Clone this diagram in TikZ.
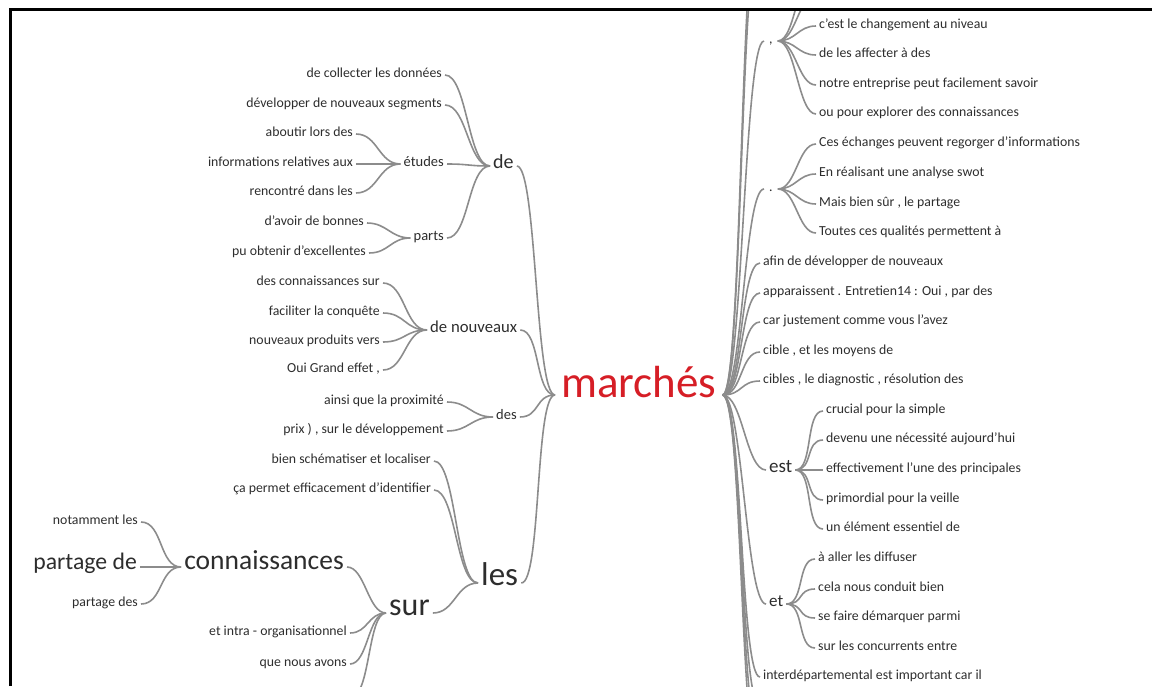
\documentclass[tikz,border=0pt]{standalone}
\usepackage{fontspec}
\setmainfont{Carlito}
\definecolor{twiggray}{RGB}{140,140,140}
\definecolor{inkgray}{RGB}{45,45,45}
\definecolor{rootred}{RGB}{214,30,38}
\tikzset{
  word/.style={inner sep=3pt, text=inkgray, font=\fontsize{13.8}{16}\selectfont},
  lword/.style={word, anchor=mid east},
  rword/.style={word, anchor=mid west},
  twig/.style={draw=twiggray, line width=1.6pt},
}
\begin{document}
\begin{tikzpicture}[x=1pt, y=-1pt]
  \useasboundingbox (0,0) rectangle (1152,686);
  \begin{scope}
  \clip (11,10) rectangle (1152,686);

  % la racine
  \node[rword, inner xsep=6pt, text=rootred, font=\fontsize{45}{50}\selectfont] (marches) at (555,395) {marchés};

  % gauche : de
  \node[rword, font=\fontsize{20}{24}\selectfont] (de) at (490,166) {de};
  \node[lword] (collecter) at (445,75) {de collecter les données};
  \node[lword] (segments) at (445,105) {développer de nouveaux segments};
  \node[lword, font=\fontsize{14.5}{17}\selectfont] (etudes) at (447,164) {études};
  \node[lword] (aboutir) at (356,134) {aboutir lors des};
  \node[lword] (infos) at (356,164) {informations relatives aux};
  \node[lword] (rencontre) at (356,193) {rencontré dans les};
  \node[lword, font=\fontsize{14.5}{17}\selectfont] (parts) at (447,238) {parts};
  \node[lword] (bonnes) at (367,223) {d'avoir de bonnes};
  \node[lword] (excellentes) at (369,253) {pu obtenir d'excellentes};

  % gauche : de nouveaux
  \node[rword, font=\fontsize{16.7}{20}\selectfont] (nouveaux) at (427,330) {de nouveaux};
  \node[lword] (connsur) at (383,283) {des connaissances sur};
  \node[lword] (conquete) at (383,313) {faciliter la conquête};
  \node[lword] (produits) at (383,342) {nouveaux produits vers};
  \node[lword] (grand) at (383,370) {Oui Grand effet ,};

  % gauche : des
  \node[rword, font=\fontsize{14.5}{17}\selectfont] (desn) at (493,417) {des};
  \node[lword] (proximite) at (447,402) {ainsi que la proximité};
  \node[lword] (prix) at (447,431) {prix ) , sur le développement};

  % gauche : les
  \node[rword, font=\fontsize{33}{38}\selectfont] (les) at (478,583) {les};
  \node[lword] (localiser) at (434,461) {bien schématiser et localiser};
  \node[lword] (identifier) at (434,490) {ça permet efficacement d'identifier};
  \node[rword, font=\fontsize{32}{37}\selectfont] (sur) at (386,613) {sur};
  \node[lword] (intra) at (350,633) {et intra - organisationnel};
  \node[lword] (avons) at (350,664) {que nous avons};
  \coordinate (sous) at (352,696);
  \node[lword, font=\fontsize{27.5}{32}\selectfont] (connaissances) at (347,567) {connaissances};
  \node[lword] (notamment) at (141,522) {notamment les};
  \node[lword, font=\fontsize{23.7}{28}\selectfont] (partagede) at (140,567) {partage de};
  \node[lword] (partagedes) at (141,604) {partage des};

  % droite : virgule
  \node[rword, inner xsep=5pt] (virgule) at (764,41) {,};
  \coordinate (hautA) at (816,-33);
  \coordinate (hautB) at (816,-4);
  \node[rword] (changement) at (816,26) {c'est le changement au niveau};
  \node[rword] (affecter) at (816,55) {de les affecter à des};
  \node[rword] (savoir) at (816,85) {notre entreprise peut facilement savoir};
  \node[rword] (explorer) at (816,114) {ou pour explorer des connaissances};

  % droite : point
  \node[rword, inner xsep=5pt] (point) at (764,189) {.};
  \node[rword] (echanges) at (816,144) {Ces échanges peuvent regorger d'informations};
  \node[rword] (swot) at (816,174) {En réalisant une analyse swot};
  \node[rword] (partage) at (816,204) {Mais bien sûr , le partage};
  \node[rword] (qualites) at (816,233) {Toutes ces qualités permettent à};

  % droite : directs
  \node[rword] (afin) at (760,263) {afin de développer de nouveaux};
  \node[rword] (apparaissent) at (760,293) {apparaissent . Entretien14 : Oui , par des};
  \node[rword] (justement) at (760,322) {car justement comme vous l'avez};
  \node[rword] (cible) at (760,352) {cible , et les moyens de};
  \node[rword] (cibles) at (760,381) {cibles , le diagnostic , résolution des};
  \node[rword] (interdep) at (760,677) {interdépartemental est important car il};

  % droite : est
  \node[rword, font=\fontsize{19}{23}\selectfont] (est) at (766,470) {est};
  \node[rword] (crucial) at (823,411) {crucial pour la simple};
  \node[rword] (devenu) at (823,440) {devenu une nécessité aujourd'hui};
  \node[rword] (effectivement) at (823,470) {effectivement l'une des principales};
  \node[rword] (primordial) at (823,500) {primordial pour la veille};
  \node[rword] (element) at (823,529) {un élément essentiel de};

  % droite : et
  \node[rword, font=\fontsize{17}{20}\selectfont] (et) at (766,604) {et};
  \node[rword] (diffuser) at (815,559) {à aller les diffuser};
  \node[rword] (conduit) at (815,589) {cela nous conduit bien};
  \node[rword] (demarquer) at (815,618) {se faire démarquer parmi};
  \node[rword] (concurrents) at (815,648) {sur les concurrents entre};

  % hors cadre
  \coordinate (hautC) at (760,-63);
  \coordinate (hautD) at (760,-93);
  \coordinate (basA) at (760,707);
  \coordinate (basB) at (760,737);
  \coordinate (basC) at (760,766);

  % traits gauche
  \foreach \w in {collecter,segments,etudes,parts}
    \draw[twig] (\w.mid east) .. controls +(22,0) and +(-22,0) .. (de.mid west);
  \foreach \w in {aboutir,infos,rencontre}
    \draw[twig] (\w.mid east) .. controls +(22,0) and +(-22,0) .. (etudes.mid west);
  \foreach \w in {bonnes,excellentes}
    \draw[twig] (\w.mid east) .. controls +(20,0) and +(-20,0) .. (parts.mid west);
  \foreach \w in {connsur,conquete,produits,grand}
    \draw[twig] (\w.mid east) .. controls +(22,0) and +(-22,0) .. (nouveaux.mid west);
  \foreach \w in {proximite,prix}
    \draw[twig] (\w.mid east) .. controls +(22,0) and +(-22,0) .. (desn.mid west);
  \foreach \w in {localiser,identifier,sur}
    \draw[twig] (\w.mid east) .. controls +(22,0) and +(-22,0) .. (les.mid west);
  \foreach \w in {connaissances,intra,avons}
    \draw[twig] (\w.mid east) .. controls +(18,0) and +(-18,0) .. (sur.mid west);
  \draw[twig] (sous) .. controls +(18,0) and +(-18,0) .. (sur.mid west);
  \foreach \w in {notamment,partagede,partagedes}
    \draw[twig] (\w.mid east) .. controls +(22,0) and +(-22,0) .. (connaissances.mid west);
  \foreach \w in {de,nouveaux,desn,les}
    \draw[twig] (\w.mid east) .. controls +(20,0) and +(-20,0) .. (marches.mid west);

  % traits droite
  \foreach \w in {virgule,point,afin,apparaissent,justement,cible,cibles,est,et,interdep}
    \draw[twig] (marches.mid east) .. controls +(20,0) and +(-20,0) .. (\w.mid west);
  \foreach \w in {hautC,hautD,basA,basB,basC}
    \draw[twig] (marches.mid east) .. controls +(20,0) and +(-20,0) .. (\w);
  \foreach \w in {changement,affecter,savoir,explorer}
    \draw[twig] (virgule.mid east) .. controls +(18,0) and +(-18,0) .. (\w.mid west);
  \foreach \w in {hautA,hautB}
    \draw[twig] (virgule.mid east) .. controls +(18,0) and +(-18,0) .. (\w);
  \foreach \w in {echanges,swot,partage,qualites}
    \draw[twig] (point.mid east) .. controls +(18,0) and +(-18,0) .. (\w.mid west);
  \foreach \w in {crucial,devenu,effectivement,primordial,element}
    \draw[twig] (est.mid east) .. controls +(18,0) and +(-18,0) .. (\w.mid west);
  \foreach \w in {diffuser,conduit,demarquer,concurrents}
    \draw[twig] (et.mid east) .. controls +(18,0) and +(-18,0) .. (\w.mid west);
  \end{scope}

  % cadre
  \draw[line width=3pt] (10,686) -- (10,9) -- (1152,9);
\end{tikzpicture}
\end{document}
